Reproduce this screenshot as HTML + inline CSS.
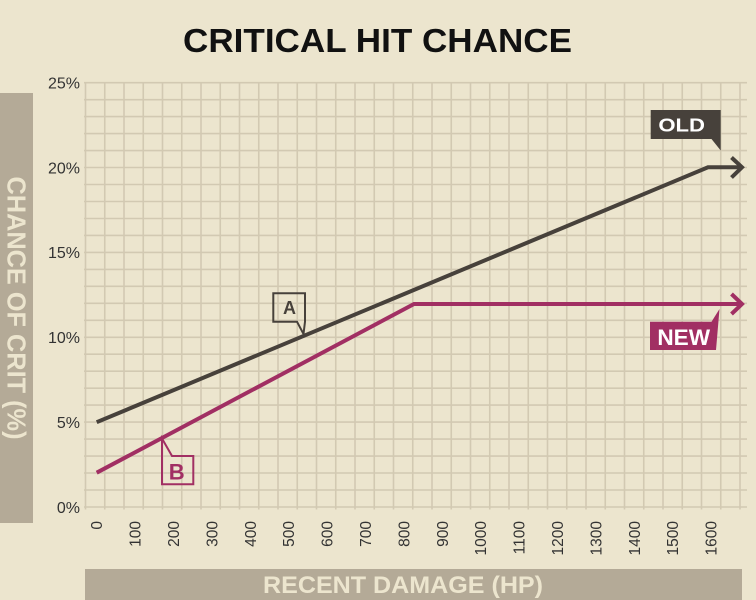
<!DOCTYPE html>
<html><head><meta charset="utf-8"><style>
html,body{margin:0;padding:0;background:#ECE5CE;}
svg{display:block;}
text{font-family:"Liberation Sans",sans-serif;}
</style></head><body>
<svg width="756" height="600" viewBox="0 0 756 600" xmlns="http://www.w3.org/2000/svg">
<rect x="0" y="0" width="756" height="600" fill="#ECE5CE"/>
<!-- title -->
<text x="183" y="52" font-size="33" font-weight="bold" fill="#111" textLength="389" lengthAdjust="spacingAndGlyphs">CRITICAL HIT CHANCE</text>
<!-- y axis label box -->
<rect x="0" y="93" width="33" height="430" fill="#B4AA97"/>
<text transform="translate(7.5,308) rotate(90)" text-anchor="middle" font-size="26" font-weight="bold" fill="#ECE5CE" textLength="263" lengthAdjust="spacingAndGlyphs">CHANCE OF CRIT (%)</text>
<!-- x axis label box -->
<rect x="85" y="569" width="657" height="31" fill="#B4AA97"/>
<text x="263" y="593" font-size="24" font-weight="bold" fill="#ECE5CE" textLength="280" lengthAdjust="spacingAndGlyphs">RECENT DAMAGE (HP)</text>
<!-- grid -->
<g stroke="#D2C9B2" stroke-width="1.6" fill="none">
<path d="M84 82.7H747M84 99.7H747M84 116.6H747M84 133.6H747M84 150.6H747M84 167.5H747M84 184.5H747M84 201.5H747M84 218.5H747M84 235.4H747M84 252.4H747M84 269.4H747M84 286.3H747M84 303.3H747M84 320.3H747M84 337.3H747M84 354.2H747M84 371.2H747M84 388.2H747M84 405.1H747M84 422.1H747M84 439.1H747M84 456.1H747M84 473H747M84 490H747M84 507H747"/>
<path d="M85.5 82.7V509.5M104.75 82.7V509.5M124 82.7V509.5M143.25 82.7V509.5M162.5 82.7V509.5M181.75 82.7V509.5M201 82.7V509.5M220.25 82.7V509.5M239.5 82.7V509.5M258.75 82.7V509.5M278 82.7V509.5M297.25 82.7V509.5M316.5 82.7V509.5M335.75 82.7V509.5M355 82.7V509.5M374.25 82.7V509.5M393.5 82.7V509.5M412.75 82.7V509.5M432 82.7V509.5M451.25 82.7V509.5M470.5 82.7V509.5M489.75 82.7V509.5M509 82.7V509.5M528.25 82.7V509.5M547.5 82.7V509.5M566.75 82.7V509.5M586 82.7V509.5M605.25 82.7V509.5M624.5 82.7V509.5M643.75 82.7V509.5M663 82.7V509.5M682.25 82.7V509.5M701.5 82.7V509.5M720.75 82.7V509.5M740 82.7V509.5"/>
</g>
<!-- y tick labels -->
<g font-size="16" fill="#333" text-anchor="end">
<text x="80" y="88.5">25%</text>
<text x="80" y="173.3">20%</text>
<text x="80" y="258.2">15%</text>
<text x="80" y="343.1">10%</text>
<text x="80" y="427.9">5%</text>
<text x="80" y="512.8">0%</text>
</g>
<!-- x tick labels -->
<g font-size="15.5" fill="#333" text-anchor="end">
<text transform="translate(102.2,521) rotate(-90)">0</text>
<text transform="translate(140.6,521) rotate(-90)">100</text>
<text transform="translate(179,521) rotate(-90)">200</text>
<text transform="translate(217.4,521) rotate(-90)">300</text>
<text transform="translate(255.8,521) rotate(-90)">400</text>
<text transform="translate(294.2,521) rotate(-90)">500</text>
<text transform="translate(332.6,521) rotate(-90)">600</text>
<text transform="translate(371,521) rotate(-90)">700</text>
<text transform="translate(409.4,521) rotate(-90)">800</text>
<text transform="translate(447.8,521) rotate(-90)">900</text>
<text transform="translate(486.2,521) rotate(-90)">1000</text>
<text transform="translate(524.6,521) rotate(-90)">1100</text>
<text transform="translate(563,521) rotate(-90)">1200</text>
<text transform="translate(601.4,521) rotate(-90)">1300</text>
<text transform="translate(639.8,521) rotate(-90)">1400</text>
<text transform="translate(678.2,521) rotate(-90)">1500</text>
<text transform="translate(716.6,521) rotate(-90)">1600</text>
</g>
<!-- OLD series -->
<g stroke="#47413B" stroke-width="4" fill="none" stroke-linejoin="miter">
<polyline points="96.7,422.2 708,167.3 742,167.3"/>
<polyline points="731.5,157.5 742,167.3 731.5,177.5"/>
</g>
<!-- NEW series -->
<g stroke="#A12F63" stroke-width="4" fill="none" stroke-linejoin="miter">
<polyline points="96.7,472.7 414,304 742,304"/>
<polyline points="731.5,294 742,304 731.5,314"/>
</g>
<!-- OLD label -->
<path d="M650.7 110H720.7V150.5L711.5 139H650.7Z" fill="#47413B"/>
<text x="681.7" y="131.7" font-size="18.5" font-weight="bold" fill="#fff" text-anchor="middle" textLength="46.7" lengthAdjust="spacingAndGlyphs">OLD</text>
<!-- NEW label -->
<path d="M650 321.7H711.5L719.5 309L716 350H650Z" fill="#A12F63"/>
<text x="683.7" y="345" font-size="22" font-weight="bold" fill="#fff" text-anchor="middle" textLength="52.7" lengthAdjust="spacingAndGlyphs">NEW</text>
<!-- A label -->
<path d="M273.3 293.3H305V321.7L303.5 334L297 321.7H273.3Z" fill="none" stroke="#47413B" stroke-width="2"/>
<text x="289.5" y="314" font-size="18" font-weight="bold" fill="#47413B" text-anchor="middle">A</text>
<!-- B label -->
<path d="M162 438.5L172 456H193.3V484.3H162Z" fill="none" stroke="#A12F63" stroke-width="2"/>
<text x="176.7" y="479.3" font-size="22" font-weight="bold" fill="#A12F63" text-anchor="middle">B</text>
</svg>
</body></html>
